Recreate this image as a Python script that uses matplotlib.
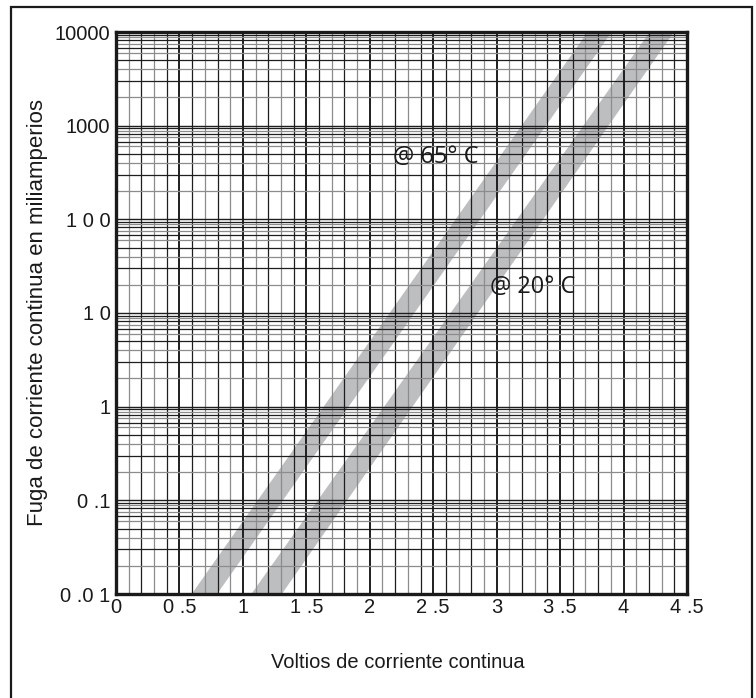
import matplotlib.pyplot as plt
from matplotlib.patches import Rectangle

# axis ticks and labels as printed on the original sheet
volt_ticks = [0, 0.5, 1, 1.5, 2, 2.5, 3, 3.5, 4, 4.5]
volt_labels = ["0", "0 .5", "1", "1 .5", "2", "2 .5", "3", "3 .5", "4", "4 .5"]
current_ticks = [0.01, 0.1, 1, 10, 100, 1000, 10000]
current_labels = ["0 .0 1", "0 .1", "1", "1 0", "1 0 0", "1000", "10000"]
minor_steps = [2, 3, 4, 5, 6, 6.75, 7.5, 8.2, 8.85, 9.4]

# leakage bands: voltage edges at the bottom and top of the chart
band_current = [0.01, 10000]
band_65_low = [0.59, 3.71]
band_65_high = [0.79, 3.90]
band_20_low = [1.06, 4.20]
band_20_high = [1.30, 4.39]

BAND = "#bdbec0"
GRID_DARK = "#1e1e1e"
GRID_LIGHT = "#8c8c8c"

fig = plt.figure(figsize=(7.56, 6.98), dpi=100)
ax = fig.add_axes([116 / 756, 1 - 594 / 698, (687 - 116) / 756, (594 - 32) / 698])
ax.set_yscale("log")
ax.set_xlim(0, 4.5)
ax.set_ylim(0.01, 10000)

ax.fill_betweenx(band_current, band_65_low, band_65_high, color=BAND, lw=0, zorder=1)
ax.fill_betweenx(band_current, band_20_low, band_20_high, color=BAND, lw=0, zorder=1)

# graph paper grid
for i in range(1, 45):
    v = i / 10
    if i % 5 == 0:
        ax.axvline(v, color=GRID_DARK, lw=1.4, zorder=2)
    elif i % 2 == 0:
        ax.axvline(v, color=GRID_DARK, lw=0.9, zorder=2)
    else:
        ax.axvline(v, color=GRID_LIGHT, lw=0.9, zorder=2)

for decade in current_ticks[:-1]:
    ax.axhline(decade, color=GRID_DARK, lw=1.0, zorder=2)
    for k, step in enumerate(minor_steps):
        color = GRID_LIGHT if k % 2 == 0 else GRID_DARK
        ax.axhline(decade * step, color=color, lw=0.9, zorder=2)

ax.set_xticks(volt_ticks)
ax.set_xticklabels(volt_labels)
ax.set_yticks(current_ticks)
ax.set_yticklabels(current_labels)
ax.yaxis.set_minor_locator(plt.NullLocator())
ax.tick_params(length=0, labelsize=14.5, colors="#1a1a1a")
ax.tick_params(axis="x", pad=3)
ax.tick_params(axis="y", pad=4)
for label in ax.get_xticklabels() + ax.get_yticklabels():
    label.set_family("Liberation Sans")

for spine in ax.spines.values():
    spine.set_linewidth(2.4)
    spine.set_color("#1a1a1a")
    spine.set_zorder(4)

ax.text(2.18, 460, "@ 65° C", fontsize=17, family="Open Sans", va="center", ha="left", color="#1a1a1a", zorder=3)
ax.text(2.95, 19, "@ 20° C", fontsize=17, family="Open Sans", va="center", ha="left", color="#1a1a1a", zorder=3)

fig.text(398 / 756, 1 - 663 / 698, "Voltios de corriente continua", ha="center", va="center",
         fontsize=14.5, family="Liberation Sans", color="#1a1a1a")
fig.text(38 / 756, 1 - 312 / 698, "Fuga de corriente continua en miliamperios", ha="center", va="center",
         rotation=90, fontsize=16, family="Liberation Sans", color="#1a1a1a")

fig.patches.append(Rectangle((11 / 756, -0.05), (752 - 11) / 756, 1.05 - 7 / 698, transform=fig.transFigure,
                             fill=False, edgecolor="#1a1a1a", lw=1.6))

fig.savefig("out.png", dpi=100)
